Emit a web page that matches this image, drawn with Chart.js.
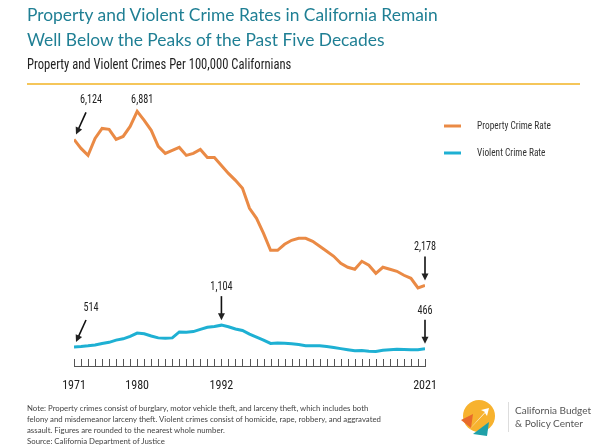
<!DOCTYPE html>
<html>
<head>
<meta charset="utf-8">
<script src="https://cdn.jsdelivr.net/npm/chart.js@4"></script>
<style>
  html, body { margin: 0; padding: 0; background: #fff; }
  #wrap { position: relative; width: 600px; height: 448px; overflow: hidden; font-family: Lato, "Open Sans", sans-serif; }
  #grafico { position: absolute; left: 0; top: 0; }
  .titulo { position: absolute; left: 27px; top: 2px; color: #1f7f94; font-size: 17.4px; line-height: 25px; }
  .sub { position: absolute; left: 27px; top: 55px; color: #222; font-family: "Liberation Sans Narrow", "Roboto Condensed", Roboto, sans-serif; font-size: 15px; transform: scaleX(0.84); transform-origin: left top; white-space: nowrap; }
  .regua { position: absolute; left: 27px; top: 83px; width: 553px; height: 2px; background: #f5c65a; }
  .nota { position: absolute; left: 27px; top: 403px; width: 362px; color: #444; font-size: 7.8px; line-height: 11px; }
  .marca { position: absolute; left: 515px; top: 404px; color: #555; font-size: 10px; line-height: 13px; }
  .divisor { position: absolute; left: 508px; top: 402px; width: 1px; height: 30px; background: #ddd; }
  #logo { position: absolute; left: 459px; top: 398px; }
</style>
</head>
<body>
<div id="wrap">
  <canvas id="grafico" width="600" height="448"></canvas>
  <div class="titulo">Property and Violent Crime Rates in California Remain<br>Well Below the Peaks of the Past Five Decades</div>
  <div class="sub">Property and Violent Crimes Per 100,000 Californians</div>
  <div class="regua"></div>
  <div class="nota">Note: Property crimes consist of burglary, motor vehicle theft, and larceny theft, which includes both<br>felony and misdemeanor larceny theft. Violent crimes consist of homicide, rape, robbery, and aggravated<br>assault. Figures are rounded to the nearest whole number.<br>Source: California Department of Justice</div>
  <svg id="logo" width="40" height="40" viewBox="0 0 40 40">
    <circle cx="20" cy="18" r="16" fill="#f7b22e"/>
    <polygon points="2,22 14,16 12,30" fill="#e86a2b"/>
    <polygon points="14,36 30,24 28,38" fill="#1fa0a8"/>
    <polygon points="8,34 26,14 22,12 30,10 28,18 26,15" fill="#fff"/>
  </svg>
  <div class="divisor"></div>
  <div class="marca">California Budget<br>&amp; Policy Center</div>
</div>
<script>
// dados (por 100.000 habitantes)
var anos = [];
for (var a = 1971; a <= 2021; a++) anos.push(a);

var crimePropriedade = [6124, 5881, 5692, 6150, 6420, 6395, 6124, 6205, 6475, 6881,
  6640, 6370, 5935, 5746, 5827, 5908, 5692, 5746, 5854, 5638,
  5638, 5422, 5206, 5017, 4801, 4261, 3991, 3586, 3127, 3127,
  3289, 3397, 3451, 3451, 3370, 3235, 3100, 2965, 2776, 2668,
  2614, 2830, 2722, 2506, 2668, 2614, 2560, 2452, 2371, 2110, 2178];

var crimeViolento = [514, 525, 545, 570, 610, 640, 700, 735, 800, 890,
  870, 810, 760, 750, 760, 920, 915, 930, 990, 1045,
  1070, 1104, 1060, 1000, 960, 860, 780, 700, 610, 620,
  615, 600, 580, 550, 545, 550, 525, 500, 470, 440,
  410, 420, 400, 395, 425, 440, 450, 445, 440, 440, 466];

var anosRotulo = [1971, 1980, 1992, 2021];

var legendas = ['Property Crime Rate', 'Violent Crime Rate'];
var cores = ['#ea8a45', '#1eb0d3'];

// destaques: ano, serie, texto, tipo de seta
var destaques = [
  { ano: 1971, serie: 0, texto: '6,124', seta: 'diag' },
  { ano: 1980, serie: 0, texto: '6,881', seta: 'nada' },
  { ano: 2021, serie: 0, texto: '2,178', seta: 'baixo' },
  { ano: 1971, serie: 1, texto: '514', seta: 'diag' },
  { ano: 1992, serie: 1, texto: '1,104', seta: 'baixo' },
  { ano: 2021, serie: 1, texto: '466', seta: 'baixo' }
];

var fonteEstreita = '"Liberation Sans Narrow", "Roboto Condensed", Roboto, sans-serif';

function seta(ctx, x1, y1, x2, y2) {
  var ang = Math.atan2(y2 - y1, x2 - x1);
  ctx.beginPath();
  ctx.moveTo(x1, y1);
  ctx.lineTo(x2 - 4 * Math.cos(ang), y2 - 4 * Math.sin(ang));
  ctx.stroke();
  ctx.beginPath();
  ctx.moveTo(x2, y2);
  ctx.lineTo(x2 - 7 * Math.cos(ang) + 3.5 * Math.sin(ang), y2 - 7 * Math.sin(ang) - 3.5 * Math.cos(ang));
  ctx.lineTo(x2 - 7 * Math.cos(ang) - 3.5 * Math.sin(ang), y2 - 7 * Math.sin(ang) + 3.5 * Math.cos(ang));
  ctx.closePath();
  ctx.fill();
}

// texto estreito: encolhe na horizontal
function textoEstreito(ctx, txt, x, y) {
  ctx.save();
  ctx.translate(x, y);
  ctx.scale(0.85, 1);
  ctx.fillText(txt, 0, 0);
  ctx.restore();
}

var pluginExtras = {
  id: 'extras',
  afterDraw: function(chart) {
    var ctx = chart.ctx;
    var x = chart.scales.x, y = chart.scales.y;
    var series = [crimePropriedade, crimeViolento];
    ctx.save();
    // marcas dos anos, para cima a partir do eixo
    ctx.strokeStyle = '#555';
    ctx.lineWidth = 1;
    anos.forEach(function(ano) {
      var px = Math.round(x.getPixelForValue(ano)) + 0.5;
      ctx.beginPath();
      ctx.moveTo(px, y.bottom);
      ctx.lineTo(px, y.bottom - 7);
      ctx.stroke();
    });
    // legenda a direita
    ctx.font = '11px ' + fonteEstreita;
    ctx.textBaseline = 'middle';
    ctx.textAlign = 'left';
    legendas.forEach(function(txt, i) {
      var ly = 126 + i * 27;
      ctx.strokeStyle = cores[i];
      ctx.lineWidth = 3;
      ctx.beginPath();
      ctx.moveTo(444, ly);
      ctx.lineTo(461, ly);
      ctx.stroke();
      ctx.fillStyle = '#333';
      textoEstreito(ctx, txt, 477, ly);
    });
    // rotulos com setas
    ctx.fillStyle = '#222';
    ctx.strokeStyle = '#111';
    ctx.lineWidth = 1.6;
    ctx.font = '12px ' + fonteEstreita;
    ctx.textAlign = 'center';
    destaques.forEach(function(d) {
      var i = anos.indexOf(d.ano);
      var px = x.getPixelForValue(d.ano);
      var py = y.getPixelForValue(series[d.serie][i]);
      if (d.seta === 'diag') {
        seta(ctx, px + 12, py - 27, px + 2, py - 5);
        textoEstreito(ctx, d.texto, px + 17, py - 39);
      } else if (d.seta === 'baixo') {
        seta(ctx, px, py - 29, px, py - 5);
        textoEstreito(ctx, d.texto, px, py - 38);
      } else {
        textoEstreito(ctx, d.texto, px + 5, py - 11);
      }
    });
    ctx.restore();
  }
};

var grafico = new Chart(document.getElementById('grafico').getContext('2d'), {
  type: 'line',
  data: {
    labels: anos,
    datasets: [{
      label: legendas[0],
      data: crimePropriedade,
      borderColor: cores[0],
      borderWidth: 3,
      pointRadius: 0,
      tension: 0
    }, {
      label: legendas[1],
      data: crimeViolento,
      borderColor: cores[1],
      borderWidth: 3,
      pointRadius: 0,
      tension: 0
    }]
  },
  options: {
    responsive: false,
    animation: false,
    layout: { padding: { left: 74, right: 175, top: 107, bottom: 52 } },
    plugins: { legend: { display: false }, tooltip: { enabled: false } },
    scales: {
      x: {
        type: 'linear',
        min: 1971,
        max: 2021,
        grid: { display: false },
        border: { display: true, color: '#555', width: 1 },
        afterBuildTicks: function(scale) {
          scale.ticks = anosRotulo.map(function(v) { return { value: v }; });
        },
        afterFit: function(scale) { scale.height = 30; },
        ticks: {
          autoSkip: false,
          maxRotation: 0,
          padding: 5,
          color: '#222',
          font: { family: fonteEstreita, size: 12 },
          callback: function(v) { return String(v); }
        }
      },
      y: {
        display: false,
        min: 0,
        max: 7000
      }
    }
  },
  plugins: [pluginExtras]
});
</script>
</body>
</html>
